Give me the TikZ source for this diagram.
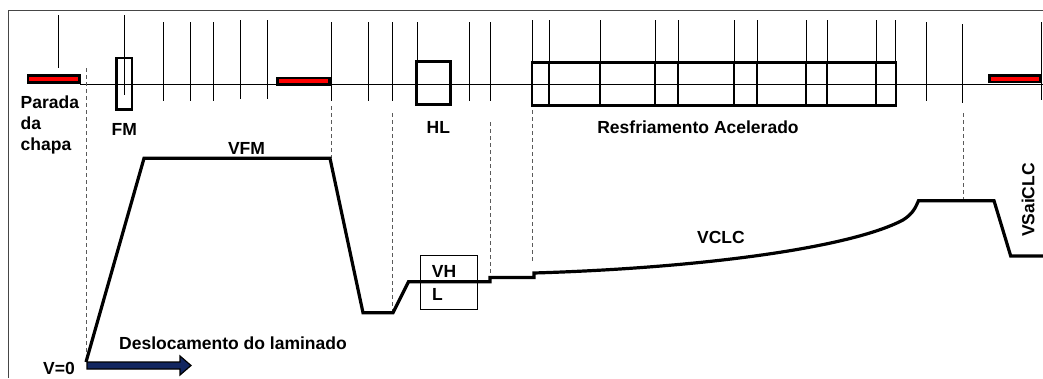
\documentclass[tikz,border=0pt]{standalone}
\usepackage{fontspec}
\setmainfont{Liberation Sans}
\usepackage{xcolor}
\usetikzlibrary{positioning, calc}
\definecolor{stopred}{RGB}{255,0,0}
\definecolor{shiftnavy}{RGB}{18,38,96}
\definecolor{framegrey}{RGB}{70,70,70}
\definecolor{guidegrey}{RGB}{90,90,90}
\def\speedStroke{3.2pt}
\def\boxStroke{2.8pt}
\def\tickStroke{0.9pt}

\begin{document}
\begin{tikzpicture}[x=1pt, y=-1pt,
  every node/.style={font=\fontsize{17.5}{21}\selectfont\bfseries, inner sep=0pt},
  tick/.style={black, line width=\tickStroke},
  guide/.style={guidegrey, line width=0.9pt, dash pattern=on 4pt off 3pt},
  stopbar/.style={draw=black, fill=stopred, line width=\boxStroke},
  standbox/.style={draw=black, line width=\boxStroke}]

\useasboundingbox (0,0) rectangle (1043,378);

% Frame (cropped on the right and bottom)
\draw[framegrey, line width=1pt] (8,378) -- (8,10) -- (1043,10);

% Roll line
\draw[tick] (80,84) -- (1043,84);

% Long ticks along the line
\foreach \x in {163,190,213,331,368,392,469,490,926} {
  \draw[tick] (\x,22) -- (\x,101);
}
\foreach \x in {240,267} {
  \draw[tick] (\x,20) -- (\x,99);
}
\draw[tick] (962.5,24) -- (962.5,103);
\draw[tick] (1041.5,22) -- (1041.5,100);
\draw[tick] (58,15) -- (58,68);
\draw[tick] (124.5,15) -- (124.5,95);
\draw[tick] (417,22) -- (417,61);

% Stop positions (red bars)
\draw[stopbar] (28,75.3) rectangle (79.3,82.7);
\draw[stopbar] (277.3,78) rectangle (329.7,84.3);
\draw[stopbar] (989.3,75.3) rectangle (1040.4,82);

% --- Stands ---
\node[standbox, minimum width=15.7pt, minimum height=51.7pt] (fm) at (124.2,83.9) {};
\node[below=12pt of fm] (fmLabel) {FM};

\node[standbox, minimum width=34pt, minimum height=43.4pt] (hl) at (433.4,83) {};
\node[below=15pt of hl, xshift=5pt] (hlLabel) {HL};

% --- Accelerated cooling ---
\node[standbox, minimum width=364pt, minimum height=43pt] (clc) at (714,83.9) {};
\foreach \x in {549,600,655,678,734,757,806,827,876} {
  \draw[black, line width=\boxStroke] (\x,62.3) -- (\x,105.4);
}
\foreach \x in {532,549,600,655,678,734,757,806,827,876,895.5} {
  \draw[tick] (\x,20) -- (\x,61);
}
\node[below=14pt of clc, xshift=-16pt] (clcLabel) {Resfriamento Acelerado};

\node[anchor=north west, align=left] (parada) at (20.5,96) {Parada\\da\\chapa};

% Dashed guides
\draw[guide] (86,68) -- (86,360);
\draw[guide] (331,106) -- (331,158);
\draw[guide] (392,113) -- (392,312);
\draw[guide] (490,122) -- (490,280);
\draw[guide] (532,110) -- (532,262);
\draw[guide] (963,113) -- (963,202);

% --- Speed profile ---
\draw[black, line width=0.9pt] (420.7,255) rectangle (477.3,309);
\draw[black, line width=\speedStroke, line join=miter]
  (86,362) -- (144,158.3) -- (330,158.3) -- (363,312.7) -- (393,312.7)
  -- (408.5,281.7) -- (490,281.7) -- (490,277.5) -- (534,277.5) -- (534,273)
  .. controls (700,268) and (850,248) .. (903,220)
  .. controls (914,213) and (916,206) .. (918.5,200.7)
  -- (994,200.7) -- (1010.7,256) -- (1043,256);

\node (vfmLabel) at (246.5,148) {VFM};
\node[anchor=west] (vhLabel) at (431.7,271.5) {VH};
\node[anchor=west] (lLabel) at (432,294) {L};
\node (vclcLabel) at (721,237.5) {VCLC};
\node[rotate=90] (vsaiLabel) at (1028,200) {VSaiCLC};

% Travel direction
\draw[black, fill=shiftnavy, line width=1.2pt, line join=miter]
  (87,362) -- (180,362) -- (180,356) -- (191,365.5) -- (180,375) -- (180,369)
  -- (87,369) -- cycle;
\node (travelLabel) at (233,343.5) {Deslocamento do laminado};
\node[anchor=east] (vzero) at (75,368.5) {V=0};

\end{tikzpicture}
\end{document}
